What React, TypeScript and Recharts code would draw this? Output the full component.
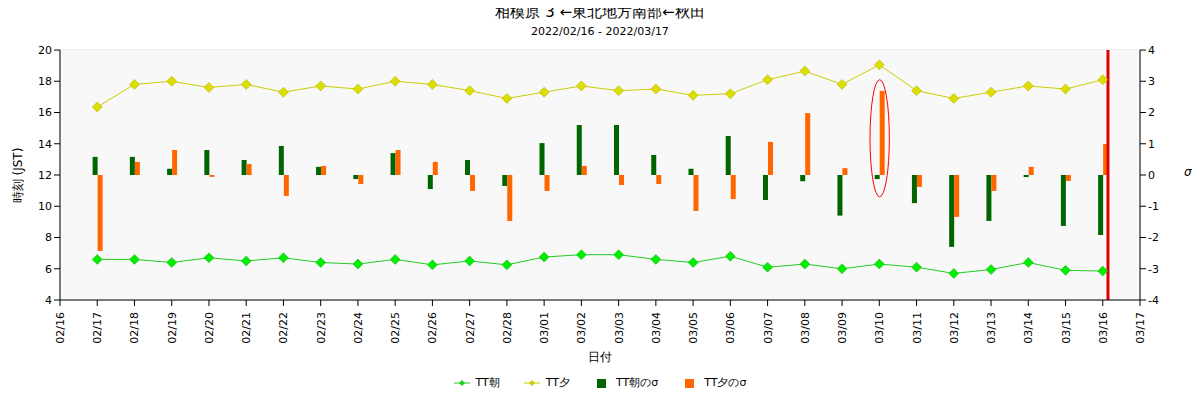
import React from "react";
import {
  ComposedChart,
  Bar,
  Line,
  XAxis,
  YAxis,
  CartesianGrid,
  ReferenceLine,
  ReferenceArea,
} from "recharts";

const dates = [
  "02/16", "02/17", "02/18", "02/19", "02/20", "02/21", "02/22", "02/23", "02/24", "02/25",
  "02/26", "02/27", "02/28", "03/01", "03/02", "03/03", "03/04", "03/05", "03/06", "03/07",
  "03/08", "03/09", "03/10", "03/11", "03/12", "03/13", "03/14", "03/15", "03/16", "03/17",
];

// values from 02/17 to 03/16
const ttAsa = [6.6, 6.6, 6.4, 6.7, 6.5, 6.7, 6.4, 6.3, 6.6, 6.25, 6.5, 6.25, 6.75, 6.9, 6.9, 6.6, 6.4, 6.8, 6.1, 6.3, 6.0, 6.3, 6.1, 5.7, 5.95, 6.4, 5.9, 5.85];
const ttYu = [16.35, 17.8, 18.0, 17.6, 17.8, 17.3, 17.7, 17.5, 18.0, 17.8, 17.4, 16.9, 17.3, 17.7, 17.4, 17.5, 17.1, 17.2, 18.1, 18.65, 17.8, 19.05, 17.4, 16.9, 17.3, 17.7, 17.5, 18.1];
const sigmaAsa = [0.58, 0.58, 0.2, 0.8, 0.48, 0.93, 0.26, -0.13, 0.7, -0.45, 0.48, -0.35, 1.02, 1.6, 1.6, 0.64, 0.2, 1.25, -0.8, -0.2, -1.3, -0.13, -0.9, -2.3, -1.47, -0.06, -1.63, -1.92];
const sigmaYu = [-2.43, 0.42, 0.8, -0.06, 0.35, -0.67, 0.29, -0.29, 0.8, 0.42, -0.51, -1.47, -0.51, 0.29, -0.32, -0.29, -1.15, -0.77, 1.06, 1.98, 0.22, 2.69, -0.38, -1.34, -0.51, 0.26, -0.19, 0.99];

const leftTicks = [4, 6, 8, 10, 12, 14, 16, 18, 20];
const rightTicks = [-4, -3, -2, -1, 0, 1, 2, 3, 4];

const data = ttAsa.map((v, i) => ({
  x: i + 1,
  asa: v,
  yu: ttYu[i],
  sAsa: sigmaAsa[i],
  sYu: sigmaYu[i],
}));

const font = "DejaVu Sans, sans-serif";

const Diamond = (color: string, stroke: string) => (props: any) => {
  const { cx, cy } = props;
  if (cx == null || cy == null) return null;
  const r = 5;
  return (
    <polygon
      points={`${cx},${cy - r} ${cx + r},${cy} ${cx},${cy + r} ${cx - r},${cy}`}
      fill={color}
      stroke={stroke}
      strokeWidth={0.5}
    />
  );
};

const DateTick = (props: any) => {
  const { x, y, payload } = props;
  return (
    <text x={x} y={y + 4} transform={`rotate(-90 ${x} ${y + 4})`} textAnchor="end" dy={4} fontSize={11} fill="#000" fontFamily={font}>
      {dates[payload.value]}
    </text>
  );
};

const EllipseShape = (props: any) => {
  const { x, y, width, height } = props;
  return (
    <ellipse cx={x + width / 2} cy={y + height / 2} rx={width / 2} ry={height / 2} fill="none" stroke="#ff0000" strokeWidth={1} />
  );
};

const legendItems = [
  { label: "TT朝", color: "#22cc22", kind: "line" },
  { label: "TT夕", color: "#cccc00", kind: "line" },
  { label: "TT朝のσ", color: "#006400", kind: "bar" },
  { label: "TT夕のσ", color: "#ff6600", kind: "bar" },
];

const overlay: React.CSSProperties = { position: "absolute", zIndex: 2 };

export default function App() {
  return (
    <div style={{ position: "relative", width: 1200, height: 400, margin: -8, background: "#fff", fontFamily: font }}>
      <ComposedChart
        width={1200}
        height={400}
        data={data}
        margin={{ top: 50, right: 0, bottom: 40, left: 0 }}
        barGap={0}
      >
        <rect x={60} y={50} width={1080} height={250} fill="#f8f8f8" />
        <CartesianGrid stroke="#dddddd" />
        <XAxis
          dataKey="x"
          type="number"
          domain={[0, 29]}
          ticks={dates.map((_, i) => i)}
          interval={0}
          tick={<DateTick />}
          height={60}
          stroke="#000"
        />
        <YAxis
          yAxisId="l"
          domain={[4, 20]}
          ticks={leftTicks}
          width={60}
          tick={{ fontSize: 11, fill: "#000", fontFamily: font }}
          stroke="#000"
        />
        <YAxis
          yAxisId="r"
          orientation="right"
          domain={[-4, 4]}
          ticks={rightTicks}
          width={60}
          tick={{ fontSize: 11, fill: "#000", fontFamily: font }}
          stroke="#000"
        />
        <Bar yAxisId="r" dataKey="sAsa" fill="#006400" barSize={5} isAnimationActive={false} />
        <Bar yAxisId="r" dataKey="sYu" fill="#ff6600" barSize={5} isAnimationActive={false} />
        <Line yAxisId="l" dataKey="asa" stroke="#22cc22" strokeWidth={1} dot={Diamond("#00ee00", "#22aa22")} isAnimationActive={false} />
        <Line yAxisId="l" dataKey="yu" stroke="#cccc00" strokeWidth={1} dot={Diamond("#dddd00", "#aaaa00")} isAnimationActive={false} />
        <ReferenceLine yAxisId="l" x={28.14} stroke="#dd0000" strokeWidth={3} />
        <ReferenceArea yAxisId="r" x1={21.75} x2={22.27} y1={-0.7} y2={3.05} shape={<EllipseShape />} />
      </ComposedChart>
      <div style={{ ...overlay, top: 3, left: 0, width: 1200, textAlign: "center", fontSize: 15 }}>
        相模原 3 ←東北地方南部←秋田
      </div>
      <div style={{ ...overlay, top: 25, left: 0, width: 1200, textAlign: "center", fontSize: 11 }}>
        2022/02/16 - 2022/03/17
      </div>
      <div style={{ ...overlay, left: -22, top: 167, width: 80, textAlign: "center", fontSize: 12, transform: "rotate(-90deg)", whiteSpace: "nowrap" }}>
        時刻 (JST)
      </div>
      <div style={{ ...overlay, left: 1184, top: 165, fontSize: 12, fontStyle: "italic" }}>σ</div>
      <div style={{ ...overlay, top: 349, left: 0, width: 1200, textAlign: "center", fontSize: 12 }}>日付</div>
      <div style={{ ...overlay, top: 375, left: 0, width: 1200, display: "flex", justifyContent: "center", gap: 24, fontSize: 11 }}>
        {legendItems.map((it) => (
          <div key={it.label} style={{ display: "flex", alignItems: "center", gap: 6 }}>
            <svg width={16} height={10}>
              {it.kind === "line" ? (
                <>
                  <line x1={0} y1={5} x2={16} y2={5} stroke={it.color} />
                  <polygon points="8,2 11,5 8,8 5,5" fill={it.color} />
                </>
              ) : (
                <rect x={3} y={1} width={9} height={9} fill={it.color} />
              )}
            </svg>
            <span>{it.label}</span>
          </div>
        ))}
      </div>
    </div>
  );
}
